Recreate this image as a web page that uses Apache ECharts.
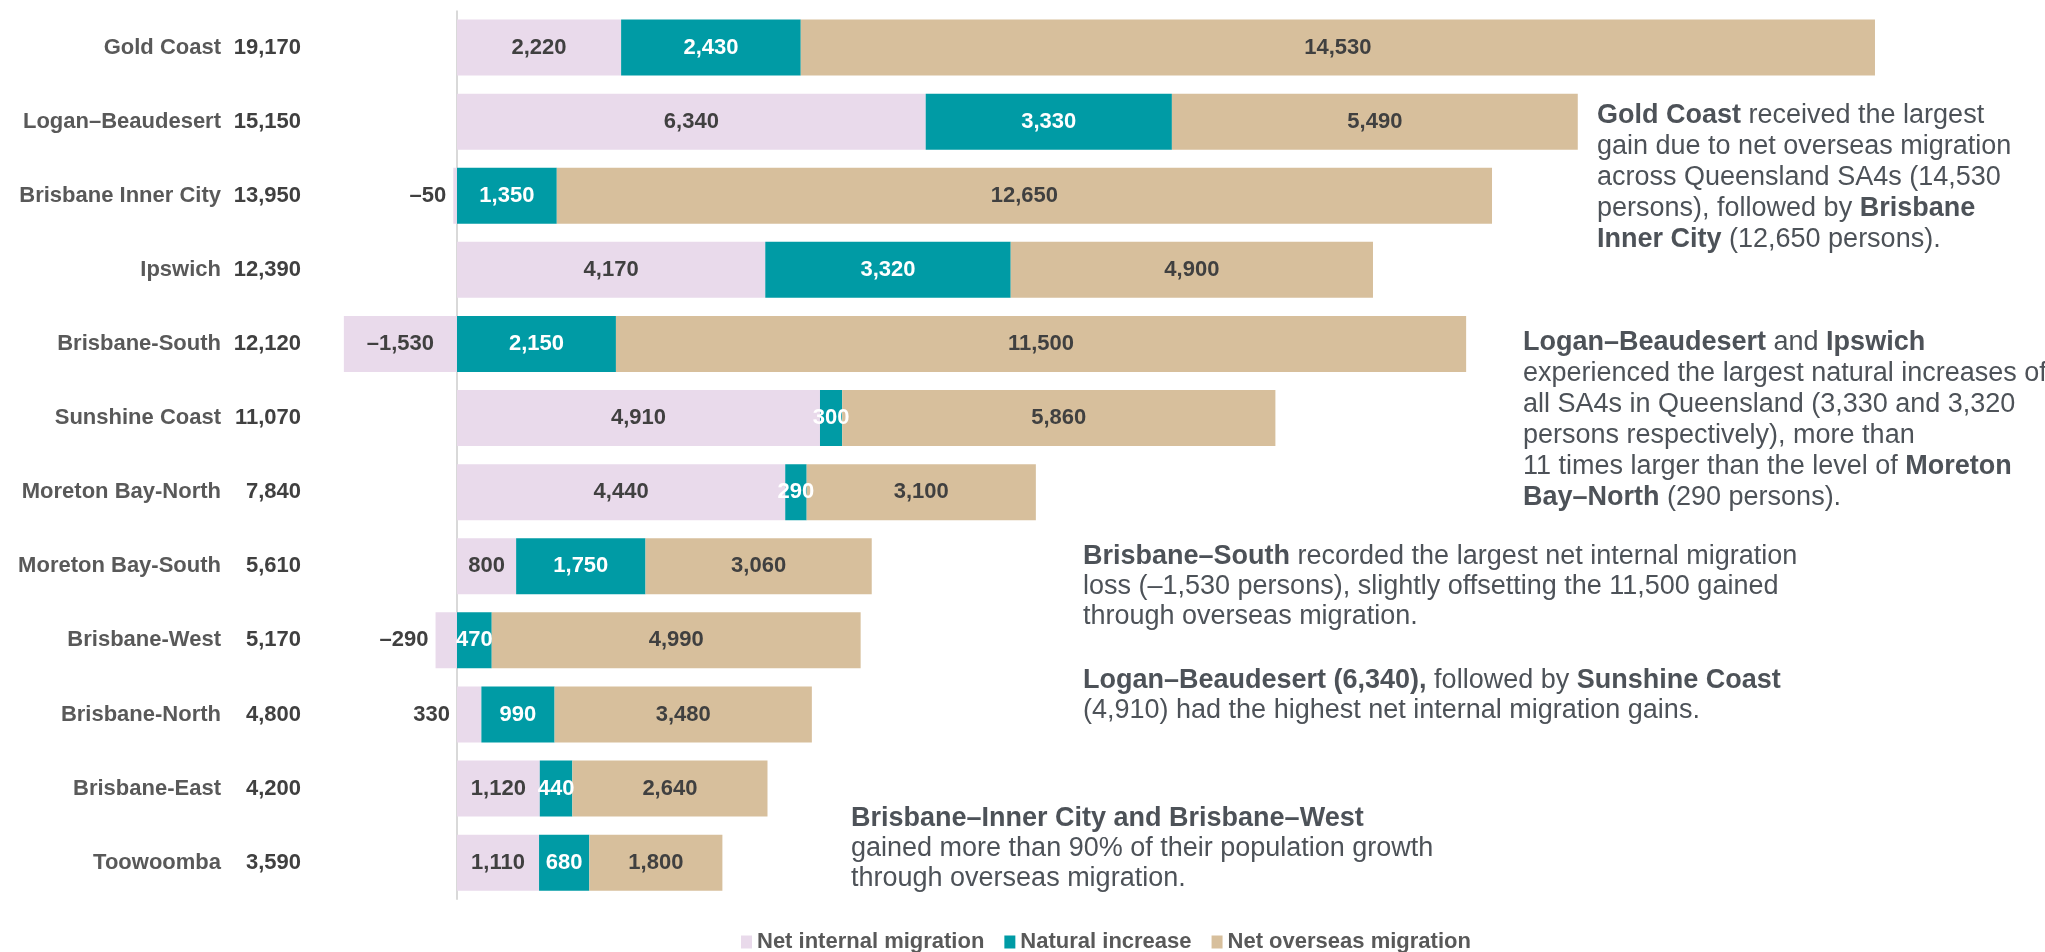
<!DOCTYPE html>
<html>
<head>
<meta charset="utf-8">
<script src="https://cdn.jsdelivr.net/npm/echarts@6/dist/echarts.min.js"></script>
<style>
  html, body { margin: 0; padding: 0; background: #ffffff; }
  #chart { width: 2045px; height: 952px; }
</style>
</head>
<body>
<div id="chart"></div>
<script>
// Components of population change by Queensland SA4 (persons)
const regions = [
  'Gold Coast', 'Logan–Beaudesert', 'Brisbane Inner City', 'Ipswich',
  'Brisbane-South', 'Sunshine Coast', 'Moreton Bay-North', 'Moreton Bay-South',
  'Brisbane-West', 'Brisbane-North', 'Brisbane-East', 'Toowoomba'
];
const totalGrowth     = [19170, 15150, 13950, 12390, 12120, 11070, 7840, 5610, 5170, 4800, 4200, 3590];
const netInternal     = [2220, 6340, -50, 4170, -1530, 4910, 4440, 800, -290, 330, 1120, 1110];
const naturalIncrease = [2430, 3330, 1350, 3320, 2150, 300, 290, 1750, 470, 990, 440, 680];
const netOverseas     = [14530, 5490, 12650, 4900, 11500, 5860, 3100, 3060, 4990, 3480, 2640, 1800];
const seriesNames = ['Net internal migration', 'Natural increase', 'Net overseas migration'];

const FONT = '"Liberation Sans", Arial, Helvetica, sans-serif';
const NOTE_COLOR = '#4d5258';

// grid geometry: value 0 sits at x = 457
const GRID_LEFT = 13.4;
const LABEL_RIGHT = 301;

// thousands separators, en dash for negatives
function fmt(v) {
  const s = String(Math.abs(v)).replace(/\B(?=(\d{3})+(?!\d))/g, ',');
  return v < 0 ? '–' + s : s;
}

const labelBase = { show: true, fontFamily: FONT, fontSize: 22, fontWeight: 'bold', formatter: p => fmt(p.value) };

// narrow internal-migration segments carry their label just outside, left of the bar
const internalData = netInternal.map(v =>
  Math.abs(v) < 600 ? { value: v, label: { position: 'left', distance: 7 } } : v
);

const boldRich = (size, lh) => ({
  b: { fontFamily: FONT, fontSize: size, fontWeight: 'bold', lineHeight: lh, fill: NOTE_COLOR }
});
function note(left, top, text, lh) {
  return {
    type: 'text', left: left, top: top,
    style: {
      text: text, fontFamily: FONT, fontSize: 27, lineHeight: lh,
      fill: NOTE_COLOR, rich: boldRich(27, lh)
    }
  };
}

const chart = echarts.init(document.getElementById('chart'), null, { renderer: 'canvas' });
chart.setOption({
  animation: false,
  backgroundColor: '#ffffff',
  grid: { left: GRID_LEFT, top: 10.5, width: 1922.2, height: 889.2, containLabel: false, outerBoundsMode: 'none' },
  xAxis: { type: 'value', min: -6000, max: 20000, show: false },
  yAxis: {
    type: 'category',
    data: regions,
    inverse: true,
    axisLine: { show: false, onZero: false },
    axisTick: { show: false },
    splitLine: { show: false },
    axisLabel: {
      // labels sit to the right of the grid edge, ending well left of the zero line
      margin: GRID_LEFT - LABEL_RIGHT,
      formatter: (value, idx) => '{n|' + value + '}{t|' + fmt(totalGrowth[idx]) + '}',
      rich: {
        n: { fontFamily: FONT, fontSize: 22, fontWeight: 'bold', color: '#595959' },
        t: { fontFamily: FONT, fontSize: 22, fontWeight: 'bold', color: '#404040', width: 80, align: 'right' }
      }
    }
  },
  legend: {
    data: seriesNames,
    left: 741, top: 931, padding: 0,
    icon: 'rect', itemWidth: 11, itemHeight: 13, itemGap: 20,
    textStyle: { fontFamily: FONT, fontSize: 22, fontWeight: 'bold', color: '#595959' }
  },
  series: [
    {
      name: seriesNames[0], type: 'bar', stack: 'change', barWidth: 56,
      itemStyle: { color: '#e9daeb' },
      label: Object.assign({}, labelBase, { color: '#404040' }),
      data: internalData,
      // zero baseline
      markLine: {
        silent: true, symbol: 'none', z: 1,
        label: { show: false },
        lineStyle: { color: '#d9d9d9', width: 2, type: 'solid' },
        data: [{ xAxis: 0 }]
      }
    },
    {
      name: seriesNames[1], type: 'bar', stack: 'change', barWidth: 56,
      itemStyle: { color: '#009ba5' },
      label: Object.assign({}, labelBase, { color: '#ffffff' }),
      data: naturalIncrease
    },
    {
      name: seriesNames[2], type: 'bar', stack: 'change', barWidth: 56,
      itemStyle: { color: '#d7bf9c' },
      label: Object.assign({}, labelBase, { color: '#404040' }),
      data: netOverseas
    }
  ],
  graphic: [
    note(1597, 100.5,
      '{b|Gold Coast} received the largest\ngain due to net overseas migration\nacross Queensland SA4s (14,530\npersons), followed by {b|Brisbane}\n{b|Inner City} (12,650 persons).', 31),
    note(1523, 327.5,
      '{b|Logan–Beaudesert} and {b|Ipswich}\nexperienced the largest natural increases of\nall SA4s in Queensland (3,330 and 3,320\npersons respectively), more than\n11 times larger than the level of {b|Moreton}\n{b|Bay–North} (290 persons).', 31),
    note(1083, 542,
      '{b|Brisbane–South} recorded the largest net internal migration\nloss (–1,530 persons), slightly offsetting the 11,500 gained\nthrough overseas migration.', 30),
    note(1083, 666,
      '{b|Logan–Beaudesert (6,340),} followed by {b|Sunshine Coast}\n(4,910) had the highest net internal migration gains.', 30),
    note(851, 804,
      '{b|Brisbane–Inner City and Brisbane–West}\ngained more than 90% of their population growth\nthrough overseas migration.', 30)
  ]
});
</script>
</body>
</html>
